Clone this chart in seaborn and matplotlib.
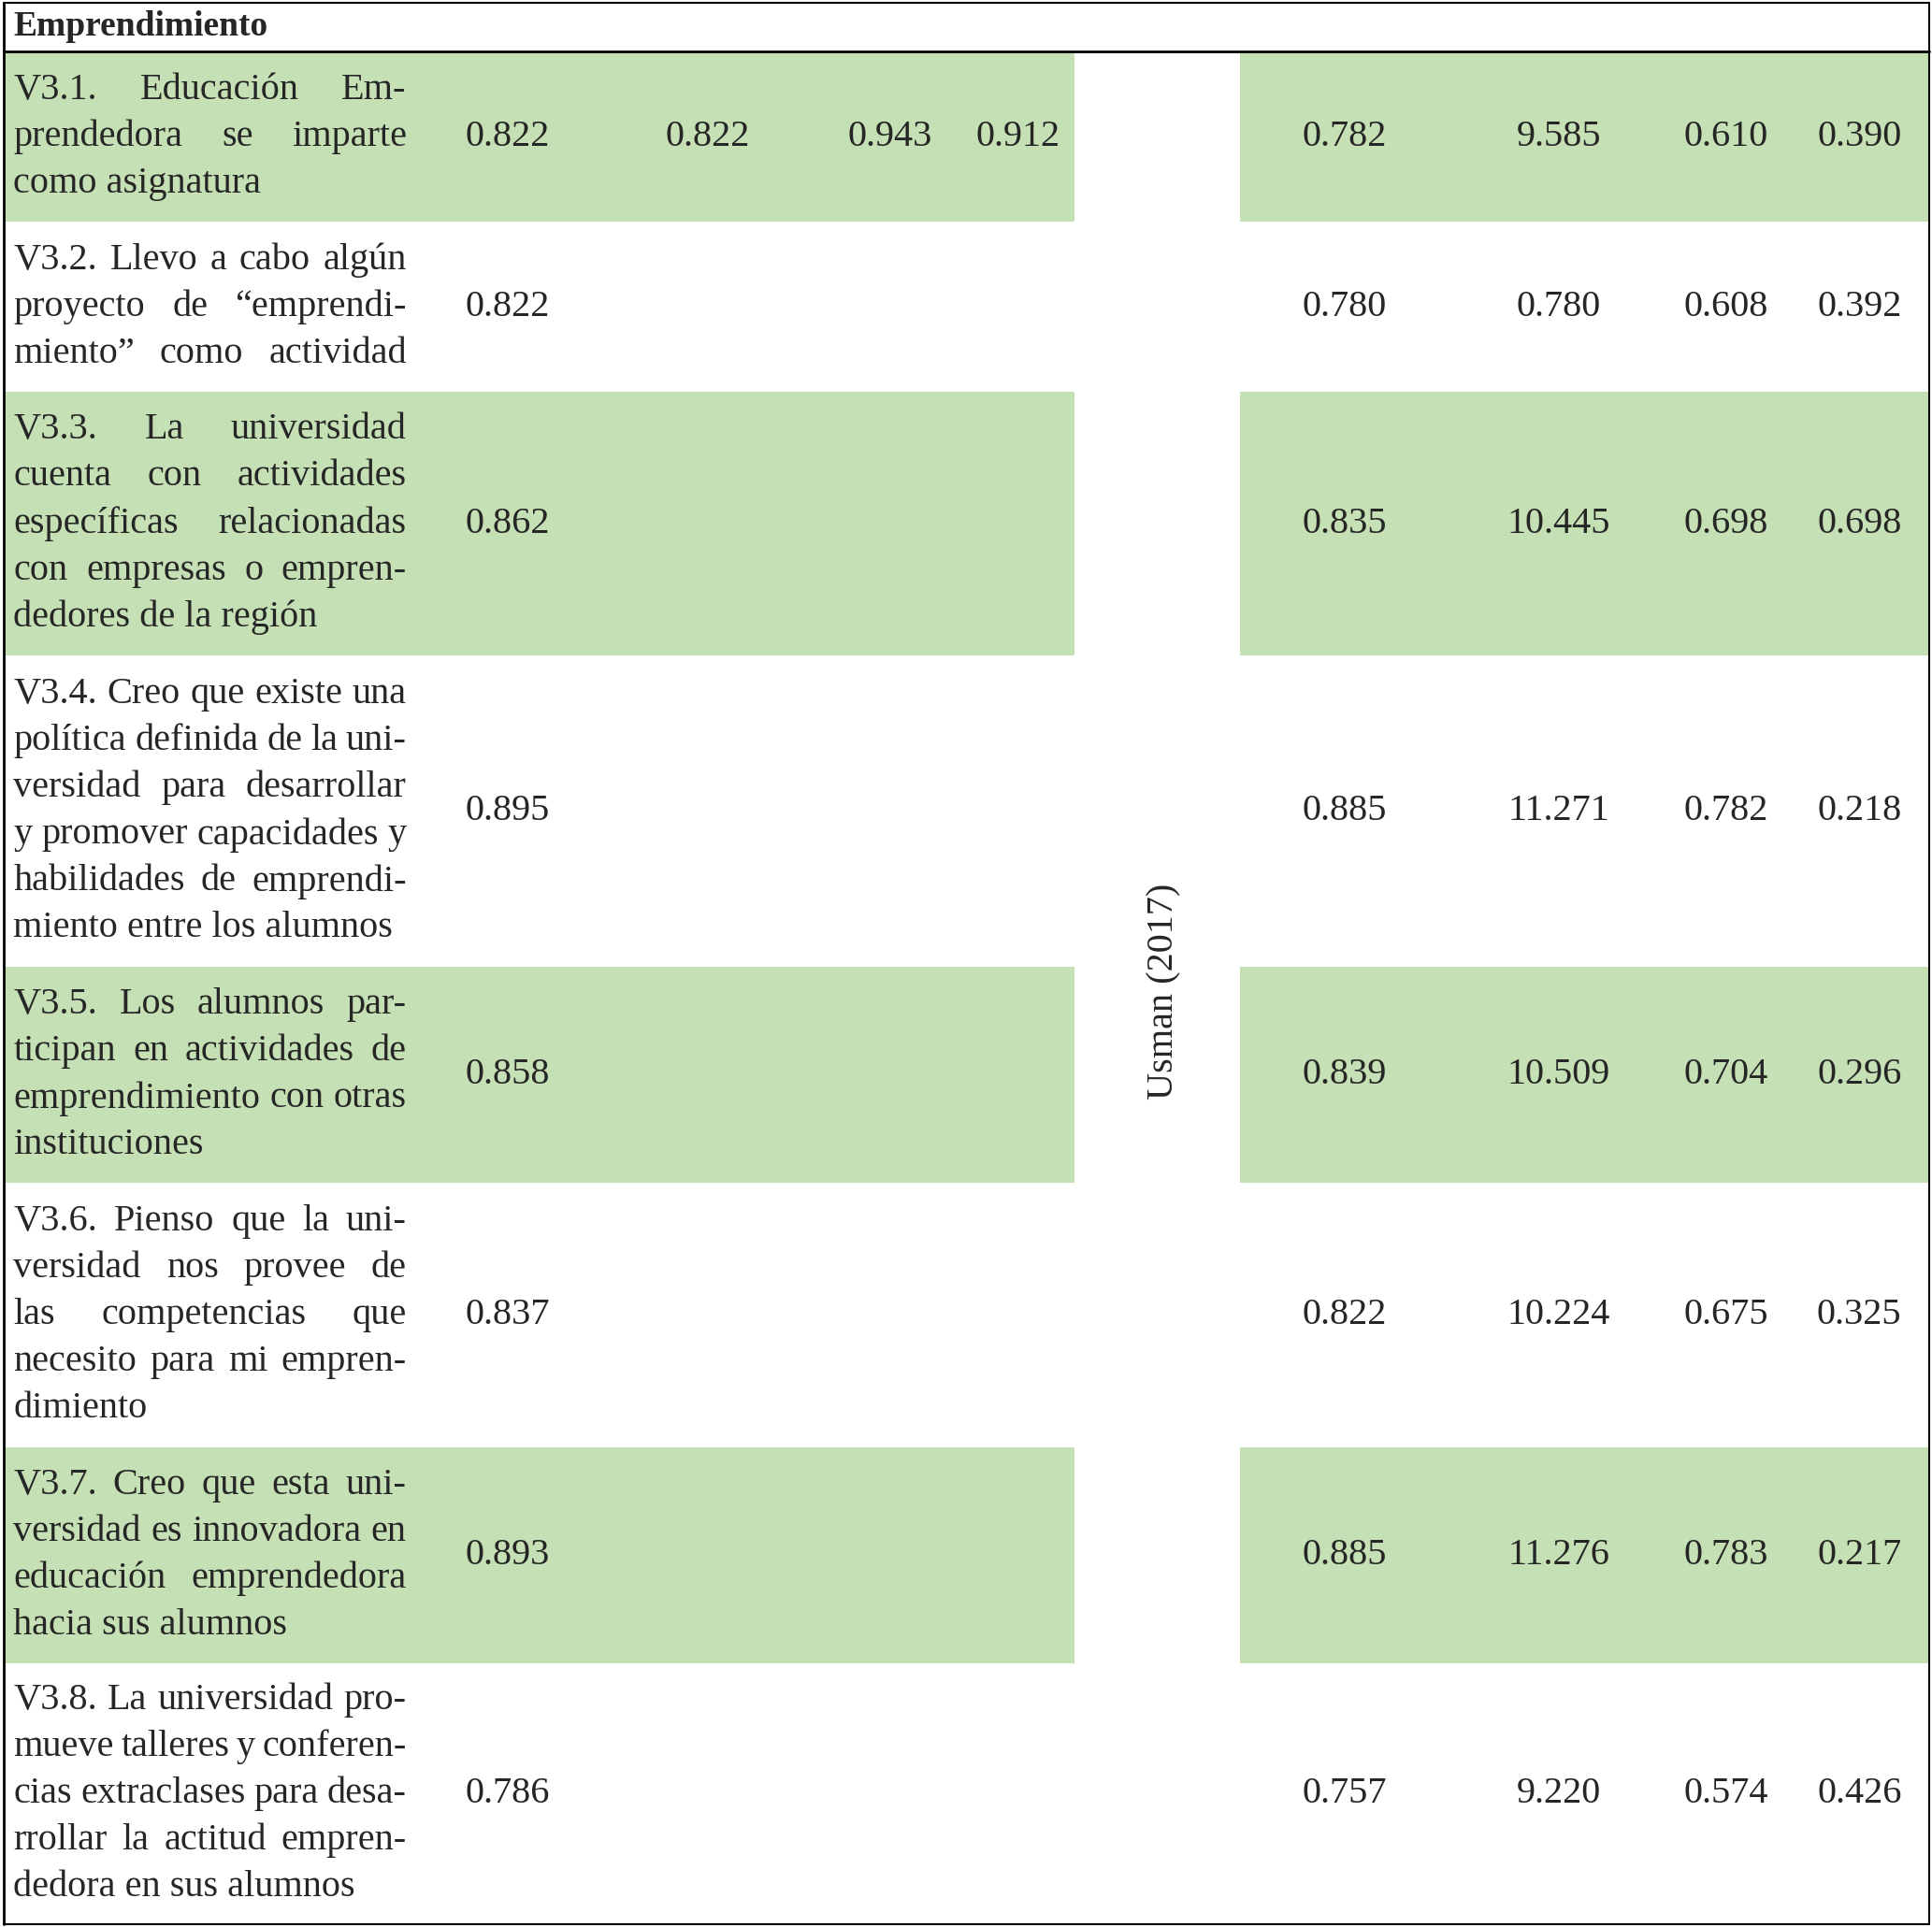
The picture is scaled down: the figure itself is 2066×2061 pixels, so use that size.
import numpy as np, matplotlib
matplotlib.use("Agg")
import matplotlib.pyplot as plt
import seaborn as sns

sns.set_theme(style="white")
plt.rcParams["font.family"] = ["Liberation Serif", "DejaVu Serif"]
GREEN = "#c5e0b4"
FS = 29

rows = [
    (["V3.1. Educación Em-", "prendedora se imparte", "como asignatura"],
     ["0.822", "0.822", "0.943", "0.912"], ["0.782", "9.585", "0.610", "0.390"]),
    (["V3.2. Llevo a cabo algún", "proyecto de “emprendi-", "miento” como actividad"],
     ["0.822", "", "", ""], ["0.780", "0.780", "0.608", "0.392"]),
    (["V3.3. La universidad", "cuenta con actividades", "específicas relacionadas", "con empresas o empren-", "dedores de la región"],
     ["0.862", "", "", ""], ["0.835", "10.445", "0.698", "0.698"]),
    (["V3.4. Creo que existe una", "política definida de la uni-", "versidad para desarrollar",
      "y promover capacidades y", "habilidades de emprendi-", "miento entre los alumnos"],
     ["0.895", "", "", ""], ["0.885", "11.271", "0.782", "0.218"]),
    (["V3.5. Los alumnos par-", "ticipan en actividades de", "emprendimiento con otras", "instituciones"],
     ["0.858", "", "", ""], ["0.839", "10.509", "0.704", "0.296"]),
    (["V3.6. Pienso que la uni-", "versidad nos provee de", "las competencias que", "necesito para mi empren-", "dimiento"],
     ["0.837", "", "", ""], ["0.822", "10.224", "0.675", "0.325"]),
    (["V3.7. Creo que esta uni-", "versidad es innovadora en", "educación emprendedora", "hacia sus alumnos"],
     ["0.893", "", "", ""], ["0.885", "11.276", "0.783", "0.217"]),
    (["V3.8. La universidad pro-", "mueve talleres y conferen-", "cias extraclases para desa-", "rrollar la actitud empren-", "dedora en sus alumnos"],
     ["0.786", "", "", ""], ["0.757", "9.220", "0.574", "0.426"]),
]
bounds = [42, 180, 318, 532, 785, 960, 1175, 1350, 1562]
left_cols = [412, 574, 722, 826]
right_cols = [1091, 1265, 1401, 1509]

W, H = 1568, 1564
fig = plt.figure(figsize=(20.66, 20.61), dpi=100)
ax = fig.add_axes([0, 0, 1, 1])
ax.set_xlim(0, W); ax.set_ylim(H, 0); ax.axis("off")
fig.canvas.draw()
rend = fig.canvas.get_renderer()
inv = ax.transData.inverted()

def width(s):
    t = ax.text(0, 0, s, fontsize=FS)
    bb = t.get_window_extent(rend)
    t.remove()
    (x0, _), (x1, _) = inv.transform([(bb.x0, 0), (bb.x1, 0)])
    return x1 - x0

def justify(line, y, x0=11, x1=330, last=False):
    words = line.split(" ")
    if last or len(words) == 1:
        ax.text(x0, y, line, fontsize=FS, va="center", ha="left")
        return
    ws = [width(w) for w in words]
    gap = (x1 - x0 - sum(ws)) / (len(words) - 1)
    x = x0
    for w, wd in zip(words, ws):
        ax.text(x, y, w, fontsize=FS, va="center", ha="left")
        x += wd + gap

for i, (lines, lv, rv) in enumerate(rows):
    top, bot = bounds[i], bounds[i + 1]
    if i % 2 == 0:
        ax.add_patch(plt.Rectangle((3, top), 869, bot - top, color=GREEN, lw=0))
        ax.add_patch(plt.Rectangle((1006, top), 560, bot - top, color=GREEN, lw=0))
    yc = (top + bot) / 2
    n = len(lines)
    for k, ln in enumerate(lines):
        y = yc + (k - (n - 1) / 2) * 38
        justify(ln, y, last=(k == n - 1 and i not in (1,)))
    for x, v in zip(left_cols, lv):
        ax.text(x, yc, v, fontsize=FS, ha="center", va="center")
    for x, v in zip(right_cols, rv):
        ax.text(x, yc, v, fontsize=FS, ha="center", va="center")

ax.text(11, 22, "Emprendimiento", fontsize=FS - 2, fontweight="bold", va="center")
ax.text(945, 805, "Usman (2017)", fontsize=FS, rotation=90, ha="center", va="center")
ax.plot([3, 1566], [2, 2], color="black", lw=1.5)
ax.plot([3, 1566], [42, 42], color="black", lw=2)
ax.plot([3, 1566], [1562, 1562], color="black", lw=1.5)
ax.plot([3, 3], [2, 1562], color="black", lw=2)
ax.plot([1566, 1566], [2, 1562], color="black", lw=1.5)

fig.savefig("out.png", dpi=100)
